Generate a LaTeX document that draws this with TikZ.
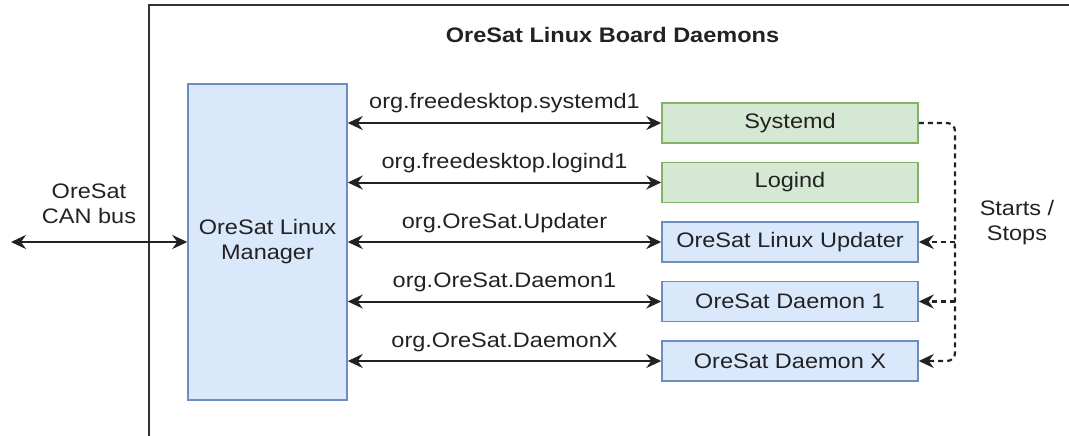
\documentclass[tikz,border=0pt]{standalone}
\usepackage{fontspec}
\setmainfont{Liberation Sans}[FakeStretch=1.12]
\usetikzlibrary{arrows.meta}
\definecolor{bfill}{HTML}{DAE8FC}
\definecolor{bdraw}{HTML}{6C8EBF}
\definecolor{gfill}{HTML}{D5E8D4}
\definecolor{gdraw}{HTML}{82B366}
\definecolor{txt}{HTML}{222222}
\definecolor{framec}{HTML}{333333}
\begin{document}
\begin{tikzpicture}[x=1pt,y=-1pt,
  every node/.style={font=\fontsize{21}{25}\selectfont, text=txt},
  bluebox/.style={draw=bdraw, fill=bfill, line width=1.5pt, minimum width=256pt, minimum height=40pt, inner sep=0pt},
  greenbox/.style={bluebox, draw=gdraw, fill=gfill},
  link/.style={draw=txt, line width=2pt, {Stealth[length=15pt,width=14pt,inset=5pt]}-{Stealth[length=15pt,width=14pt,inset=5pt]}},
  ctrl/.style={draw=txt, line width=2.2pt, dash pattern=on 5pt off 4pt, rounded corners=8pt},
  ctrltip/.style={ctrl, -{Stealth[length=15pt,width=14pt,inset=5pt]}},
  lbl/.style={midway, anchor=base, inner sep=0pt, yshift=14pt}
]
\useasboundingbox (0,0) rectangle (1069,436);
% frame
\draw[framec, line width=2.2pt] (149,436) -- (149,5) -- (1069,5);
\node[anchor=base, inner sep=0pt, font=\fontsize{21}{25}\selectfont\bfseries] (title) at (612.5,43) {OreSat Linux Board Daemons};
% manager
\node[bluebox, minimum width=159pt, minimum height=316pt, align=center] (mgr) at (267.5,242) {OreSat Linux\\Manager};
% right boxes
\node[greenbox] (sd) at (790,123) {Systemd};
\node[greenbox] (lg) at (790,182.5) {Logind};
\node[bluebox] (up) at (790,242) {OreSat Linux Updater};
\node[bluebox] (d1) at (790,301.5) {OreSat Daemon 1};
\node[bluebox] (dx) at (790,361) {OreSat Daemon X};
% CAN bus
\coordinate (can) at (11,242);
\draw[link] (can) -- (mgr.west);
\node[align=center, inner sep=0pt] (canlbl) at (89,204) {OreSat\\CAN bus};
% D-Bus links
\draw[link] (mgr.east |- sd.west) -- (sd.west) node[lbl] {org.freedesktop.systemd1};
\draw[link] (mgr.east |- lg.west) -- (lg.west) node[lbl] {org.freedesktop.logind1};
\draw[link] (mgr.east |- up.west) -- (up.west) node[lbl] {org.OreSat.Updater};
\draw[link] (mgr.east |- d1.west) -- (d1.west) node[lbl] {org.OreSat.Daemon1};
\draw[link] (mgr.east |- dx.west) -- (dx.west) node[lbl] {org.OreSat.DaemonX};
% starts / stops
\coordinate (bus) at (955,0);
\draw[ctrltip] (sd.east) -- (bus |- sd.east) -- (bus |- dx.east) -- (dx.east);
\draw[ctrltip] (bus |- up.east) -- (up.east);
\draw[ctrltip] (bus |- d1.east) -- (d1.east);
\node[align=center, inner sep=0pt] (ss) at (1017,223) {Starts /\\Stops};
\end{tikzpicture}
\end{document}
